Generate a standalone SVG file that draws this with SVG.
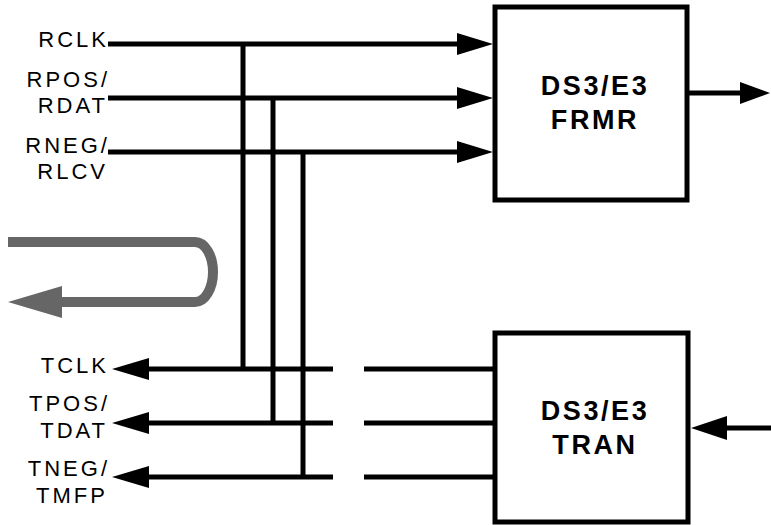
<svg xmlns="http://www.w3.org/2000/svg" width="771" height="525" viewBox="0 0 771 525">
<style>
.lbl{font-family:"Liberation Sans",Arial,sans-serif;font-size:22px;letter-spacing:3px;fill:#000;text-anchor:end}
.ttl{font-family:"Liberation Sans",Arial,sans-serif;font-size:27px;font-weight:bold;letter-spacing:2.6px;fill:#000;text-anchor:middle}
.box{fill:#fff;stroke:#000;stroke-width:5}
.w{stroke:#000;stroke-width:5;fill:none}
.ah{fill:#000}
</style>
<rect width="771" height="525" fill="#fff"/>
<g id="connectors">
  <path class="w" d="M108,44 H460 M108,98 H460 M108,152 H460"/>
  <polygon class="ah" points="493,44 457,33 457,55"/>
  <polygon class="ah" points="493,98 457,87 457,109"/>
  <polygon class="ah" points="493,152 457,141 457,163"/>
  <path class="w" d="M243,44 V369 M273,98 V423 M303,152 V477"/>
  <path class="w" d="M146,369 H333 M364,369 H495 M146,423 H333 M364,423 H495 M146,477 H333 M364,477 H495"/>
  <polygon class="ah" points="112,369 149,358 149,380"/>
  <polygon class="ah" points="112,423 149,412 149,434"/>
  <polygon class="ah" points="112,477 149,466 149,488"/>
  <path class="w" d="M687,93 H742"/>
  <polygon class="ah" points="770,93 740,82 740,104"/>
  <path class="w" d="M724,428 H771"/>
  <polygon class="ah" points="691,428 727,416 727,440"/>
  <path d="M8,242 H195 A18,30 0 0 1 195,302 H58" fill="none" stroke="#666" stroke-width="10"/>
  <polygon points="8,302 62,286 62,318" fill="#666"/>
</g>
<g id="labels">
  <text class="lbl" x="109" y="47">RCLK</text>
  <text class="lbl" x="110" y="87">RPOS/</text>
  <text class="lbl" x="108" y="113">RDAT</text>
  <text class="lbl" x="110" y="153">RNEG/</text>
  <text class="lbl" x="108" y="179">RLCV</text>
  <text class="lbl" x="109" y="373">TCLK</text>
  <text class="lbl" x="110" y="411">TPOS/</text>
  <text class="lbl" x="108" y="438">TDAT</text>
  <text class="lbl" x="110" y="476">TNEG/</text>
  <text class="lbl" x="108" y="503">TMFP</text>
</g>
<g id="frmr">
  <rect class="box" x="495" y="7" width="192" height="193"/>
  <text class="ttl" x="595" y="95">DS3/E3</text>
  <text class="ttl" x="595" y="129">FRMR</text>
</g>
<g id="tran">
  <rect class="box" x="495" y="333" width="193" height="189"/>
  <text class="ttl" x="595" y="420">DS3/E3</text>
  <text class="ttl" x="595" y="454">TRAN</text>
</g>
</svg>
